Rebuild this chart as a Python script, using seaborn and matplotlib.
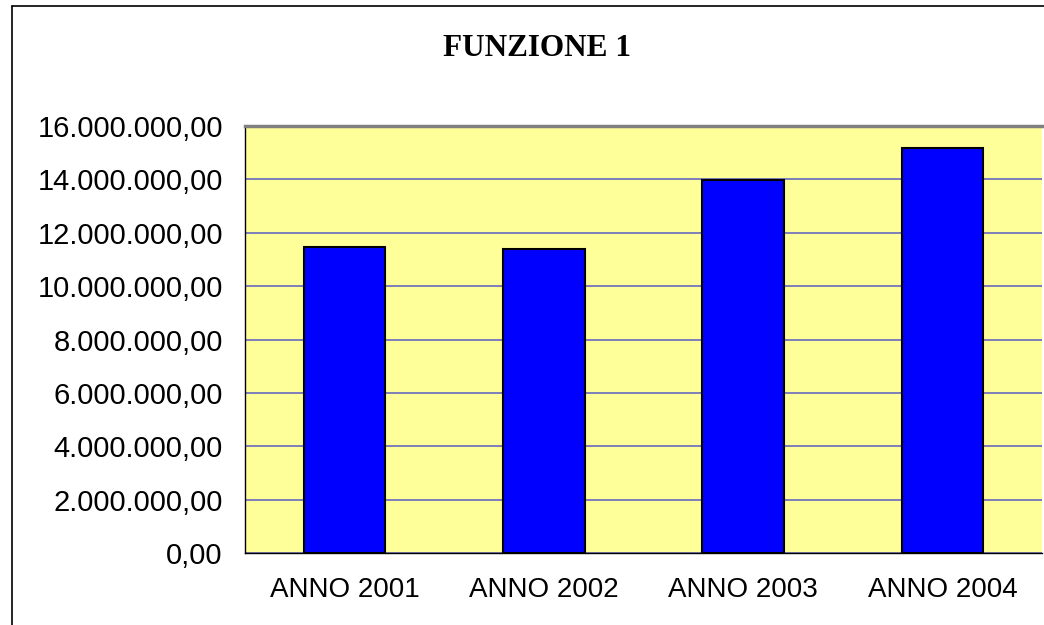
import matplotlib
matplotlib.use("Agg")
import matplotlib.pyplot as plt
import matplotlib.ticker as mticker
from matplotlib.lines import Line2D
import seaborn as sns
import pandas as pd

# data
anni = ["ANNO 2001", "ANNO 2002", "ANNO 2003", "ANNO 2004"]
valori = [11450000, 11390000, 13960000, 15190000]
titolo = "FUNZIONE 1"

df = pd.DataFrame({"anno": anni, "valore": valori})

sns.set_style("white")
plt.rcParams["font.family"] = ["Liberation Sans", "DejaVu Sans"]
plt.rcParams["text.color"] = "black"
plt.rcParams["xtick.color"] = "black"
plt.rcParams["ytick.color"] = "black"

fig = plt.figure(figsize=(10.44, 6.25), dpi=100)
ax = fig.add_axes([245 / 1044, 1 - 553 / 625, (1042 - 245) / 1044, (553 - 126) / 625])
ax.set_facecolor("#FFFF99")

sns.barplot(data=df, x="anno", y="valore", color="#0000FF", width=0.41,
            edgecolor="black", linewidth=1.5, saturation=1, ax=ax, zorder=3)

ax.set_ylim(0, 16000000)
ax.set_xlim(-0.5, len(anni) - 0.5)
ax.yaxis.set_major_locator(mticker.MultipleLocator(2000000))


def fmt_it(v, pos):
    s = f"{v:,.2f}"
    return s.replace(",", "X").replace(".", ",").replace("X", ".")


ax.yaxis.set_major_formatter(mticker.FuncFormatter(fmt_it))
ax.grid(axis="y", color="#6868C0", linewidth=1.2, zorder=1)
ax.set_axisbelow(True)

# x ticks at the category boundaries, labels centred
ax.set_xticks([i - 0.5 for i in range(len(anni) + 1)], minor=True)
ax.tick_params(axis="x", which="minor", length=8, width=1, color="black", direction="out")
ax.tick_params(axis="x", which="major", length=0, pad=17, labelsize=20, labelcolor="black")
ax.tick_params(axis="y", length=8, width=1, color="black", direction="out", pad=8,
               labelsize=21, labelcolor="black")
ax.set_xlabel("")
ax.set_ylabel("")

for s in ["left", "bottom"]:
    ax.spines[s].set_color("black")
    ax.spines[s].set_linewidth(1)
ax.spines["top"].set_color("#808080")
ax.spines["top"].set_linewidth(2.5)
ax.spines["right"].set_visible(False)

fig.text(537 / 1044, 1 - 48 / 625, titolo, ha="center", va="center", color="black",
         fontsize=22.5, fontweight="bold", family=["Liberation Serif", "DejaVu Serif"])

# outer chart border (cropped at right and bottom)
fig.add_artist(Line2D([12 / 1044, 12 / 1044], [0, 1 - 6 / 625], transform=fig.transFigure,
                      color="black", linewidth=1.2))
fig.add_artist(Line2D([12 / 1044, 1], [1 - 6 / 625, 1 - 6 / 625], transform=fig.transFigure,
                      color="black", linewidth=1.2))

fig.savefig("out.png", dpi=100)
